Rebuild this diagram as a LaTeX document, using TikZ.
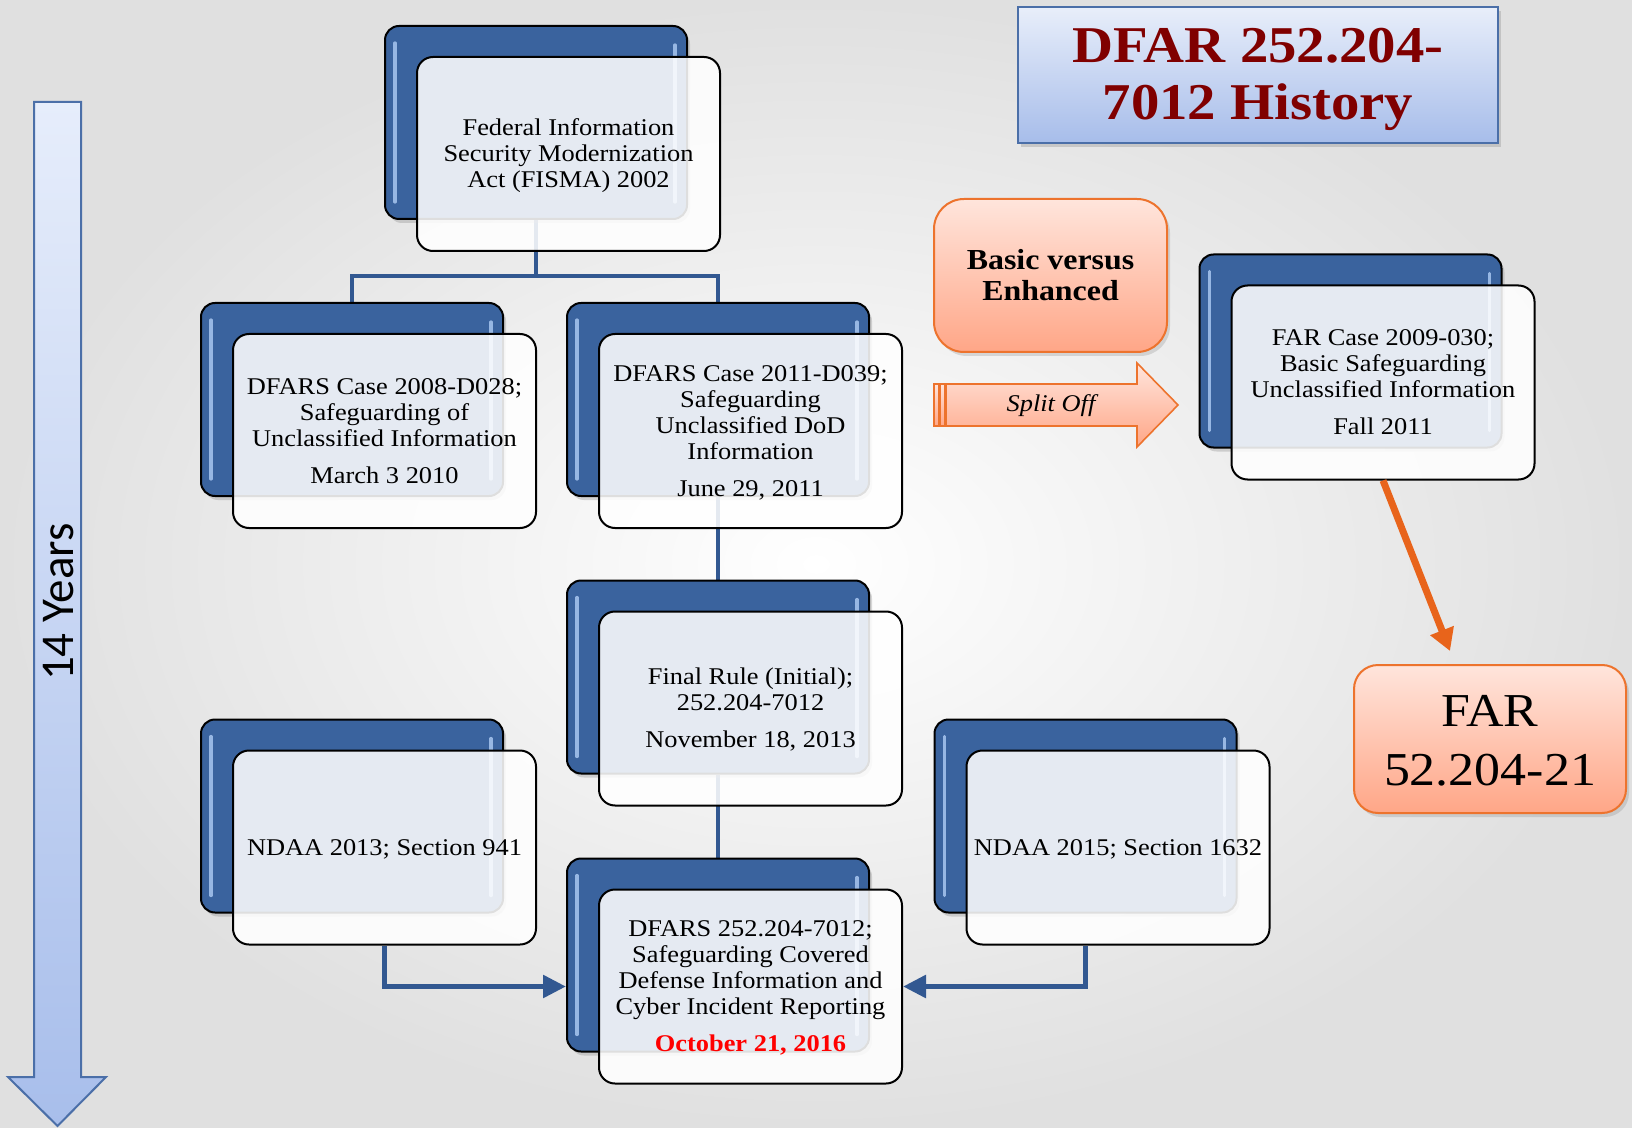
\documentclass[tikz,border=0pt]{standalone}
\usepackage{fontspec}
\setmainfont{Liberation Serif}[FakeStretch=1.1]
\newfontfamily\calib{Carlito}
\usetikzlibrary{calc,shadows,arrows.meta,backgrounds}

\definecolor{boxblue}{RGB}{58,99,158}
\definecolor{connblue}{RGB}{50,88,145}
\definecolor{hilite}{RGB}{175,205,245}
\definecolor{titlered}{RGB}{128,0,0}
\definecolor{orangeline}{RGB}{237,115,45}
\definecolor{orangetop}{RGB}{255,229,220}
\definecolor{orangebot}{RGB}{255,166,135}
\definecolor{titletop}{RGB}{232,238,250}
\definecolor{titlebot}{RGB}{167,189,234}
\definecolor{titleline}{RGB}{75,111,168}
\definecolor{timetop}{RGB}{230,237,251}
\definecolor{timebot}{RGB}{168,190,235}
\definecolor{farrow}{RGB}{232,100,27}
\definecolor{bgouter}{RGB}{224,224,224}

\tikzset{
  backbox/.style={draw=black, line width=1pt, fill=boxblue, rounded corners=7pt,
    minimum width=151pt, minimum height=96.5pt,
    drop shadow={shadow xshift=1.5pt, shadow yshift=-2pt, opacity=0.3}},
  frontbox/.style={draw=black, line width=1pt, fill=white, fill opacity=0.87,
    text opacity=1, rounded corners=8pt, minimum width=151.5pt, minimum height=97pt,
    align=center, inner sep=0pt, font=\fontsize{12}{13}\selectfont},
  hl/.style={draw=hilite, line width=1.6pt, line cap=round, opacity=0.8},
  conn/.style={draw=connblue, line width=2.2pt},
  arrconn/.style={draw=connblue, line width=2.75pt, -{Triangle[length=11.5pt,width=11pt]}},
  orangebox/.style={draw=orangeline, line width=1pt, top color=orangetop,
    bottom color=orangebot, align=center,
    drop shadow={shadow xshift=1.5pt, shadow yshift=-2pt, opacity=0.25}},
  titlebox/.style={draw=titleline, line width=1pt, top color=titletop,
    bottom color=titlebot, minimum width=240pt, minimum height=68pt, align=center,
    text=titlered, font=\bfseries\fontsize{25.8}{28.5}\selectfont,
    drop shadow={shadow xshift=1.5pt, shadow yshift=-2pt, opacity=0.3}},
  oarrow/.style={draw=farrow, line width=3.5pt, -{Triangle[length=11pt,width=12pt]}},
}

\newcommand\boxpair[4]{%
  \node[backbox] (#1B) at (#2,#3) {};
  \draw[hl] ($(#1B.north west)+(11,18)$) -- ($(#1B.south west)+(11,-18)$);
  \draw[hl] ($(#1B.north east)+(-13,20)$) -- ($(#1B.south east)+(-13,-18)$);
  \node[frontbox] (#1F) at ($(#1B.center)+(32.5,31.5)$) {\raisebox{-1.3pt}[\height][\depth]{\begin{tabular}{@{}c@{}}#4\end{tabular}}};
}

\begin{document}
\begin{tikzpicture}[x=0.5pt,y=-0.5pt]
\useasboundingbox (0,0) rectangle (1632,1128);
\begin{scope}[on background layer]
  \shade[inner color=white, outer color=bgouter] (0,0) rectangle (1632,1128);
\end{scope}

% time arrow
\shadedraw[top color=timetop, bottom color=timebot, draw=titleline, line width=1pt]
  (34,102) -- (81,102) -- (81,1077) -- (106,1077) -- (57.5,1126) -- (8,1077) -- (34,1077) -- cycle;
\node[rotate=90, font=\calib\fontsize{23.5}{25}\selectfont] (yrs) at (59,602) {14 Years};

% title
\node[titlebox] (title) at (1258,75) {\raisebox{-2.5pt}[\height][\depth]{\begin{tabular}{@{}c@{}}DFAR 252.204-\\7012 History\end{tabular}}};

% boxes
\boxpair{fisma}{536}{122.5}{Federal Information\\Security Modernization\\Act (FISMA) 2002}
\boxpair{dA}{352}{399.5}{DFARS Case 2008-D028;\\Safeguarding of\\Unclassified Information\\[5.5pt]March 3 2010}
\boxpair{dB}{718}{399.5}{DFARS Case 2011-D039;\\Safeguarding\\Unclassified DoD\\Information\\[5.5pt]June 29, 2011}
\boxpair{fin}{718}{677}{Final Rule (Initial);\\252.204-7012\\[5.5pt]November 18, 2013}
\boxpair{nA}{352}{816}{NDAA 2013; Section 941}
\boxpair{df}{718}{955}{DFARS 252.204-7012;\\Safeguarding Covered\\Defense Information and\\Cyber Incident Reporting\\[5.5pt]{\color{red}\bfseries October 21, 2016}}
\boxpair{nB}{1085.5}{816}{NDAA 2015; Section 1632}
\boxpair{farc}{1350.5}{351}{FAR Case 2009-030;\\Basic Safeguarding\\Unclassified Information\\[5.5pt]Fall 2011}

% connectors behind the boxes
\coordinate (bar) at (0,276);
\begin{scope}[on background layer]
  \draw[conn] (fismaB.south) -- (fismaB.south |- bar) -| (dAB.north);
  \draw[conn] (fismaB.south |- bar) -| (dBB.north);
  \draw[conn] (dBB.south) -- (finB.north);
  \draw[conn] (finB.south) -- (dfB.north);
\end{scope}

% arrows into the final box
\draw[arrconn] (nAF.south) |- (dfB.west |- dfF.center);
\draw[arrconn] (nBB.south |- nBF.south) |- (dfF.east);

% basic versus enhanced
\node[orangebox, minimum width=116.5pt, minimum height=76.5pt, rounded corners=15pt,
  font=\bfseries\fontsize{14.5}{15.5}\selectfont] (basic) at (1050.5,275.5) {Basic versus\\Enhanced};

% split off arrow
\shadedraw[top color=orangetop, bottom color=orangebot, draw=orangeline, line width=0.8pt]
  (946,384) -- (1137,384) -- (1137,363) -- (1178,405) -- (1137,447) -- (1137,426) -- (946,426) -- cycle;
\shadedraw[top color=orangetop, bottom color=orangebot, draw=orangeline, line width=0.8pt]
  (934,384) rectangle (939,426);
\shadedraw[top color=orangetop, bottom color=orangebot, draw=orangeline, line width=0.8pt]
  (940,384) rectangle (945,426);
\node[font=\itshape\fontsize{12}{13}\selectfont] (split) at (1051,406) {Split Off};

% FAR
\node[orangebox, minimum width=136pt, minimum height=74pt, rounded corners=12pt,
  font=\fontsize{23.6}{29.5}\selectfont] (far) at (1490,739) {\raisebox{-2.5pt}[\height][\depth]{\begin{tabular}{@{}c@{}}FAR\\52.204-21\end{tabular}}};
\coordinate (fartip) at (1450,651);
\draw[oarrow] (farcF.south) -- (fartip);
\end{tikzpicture}
\end{document}
